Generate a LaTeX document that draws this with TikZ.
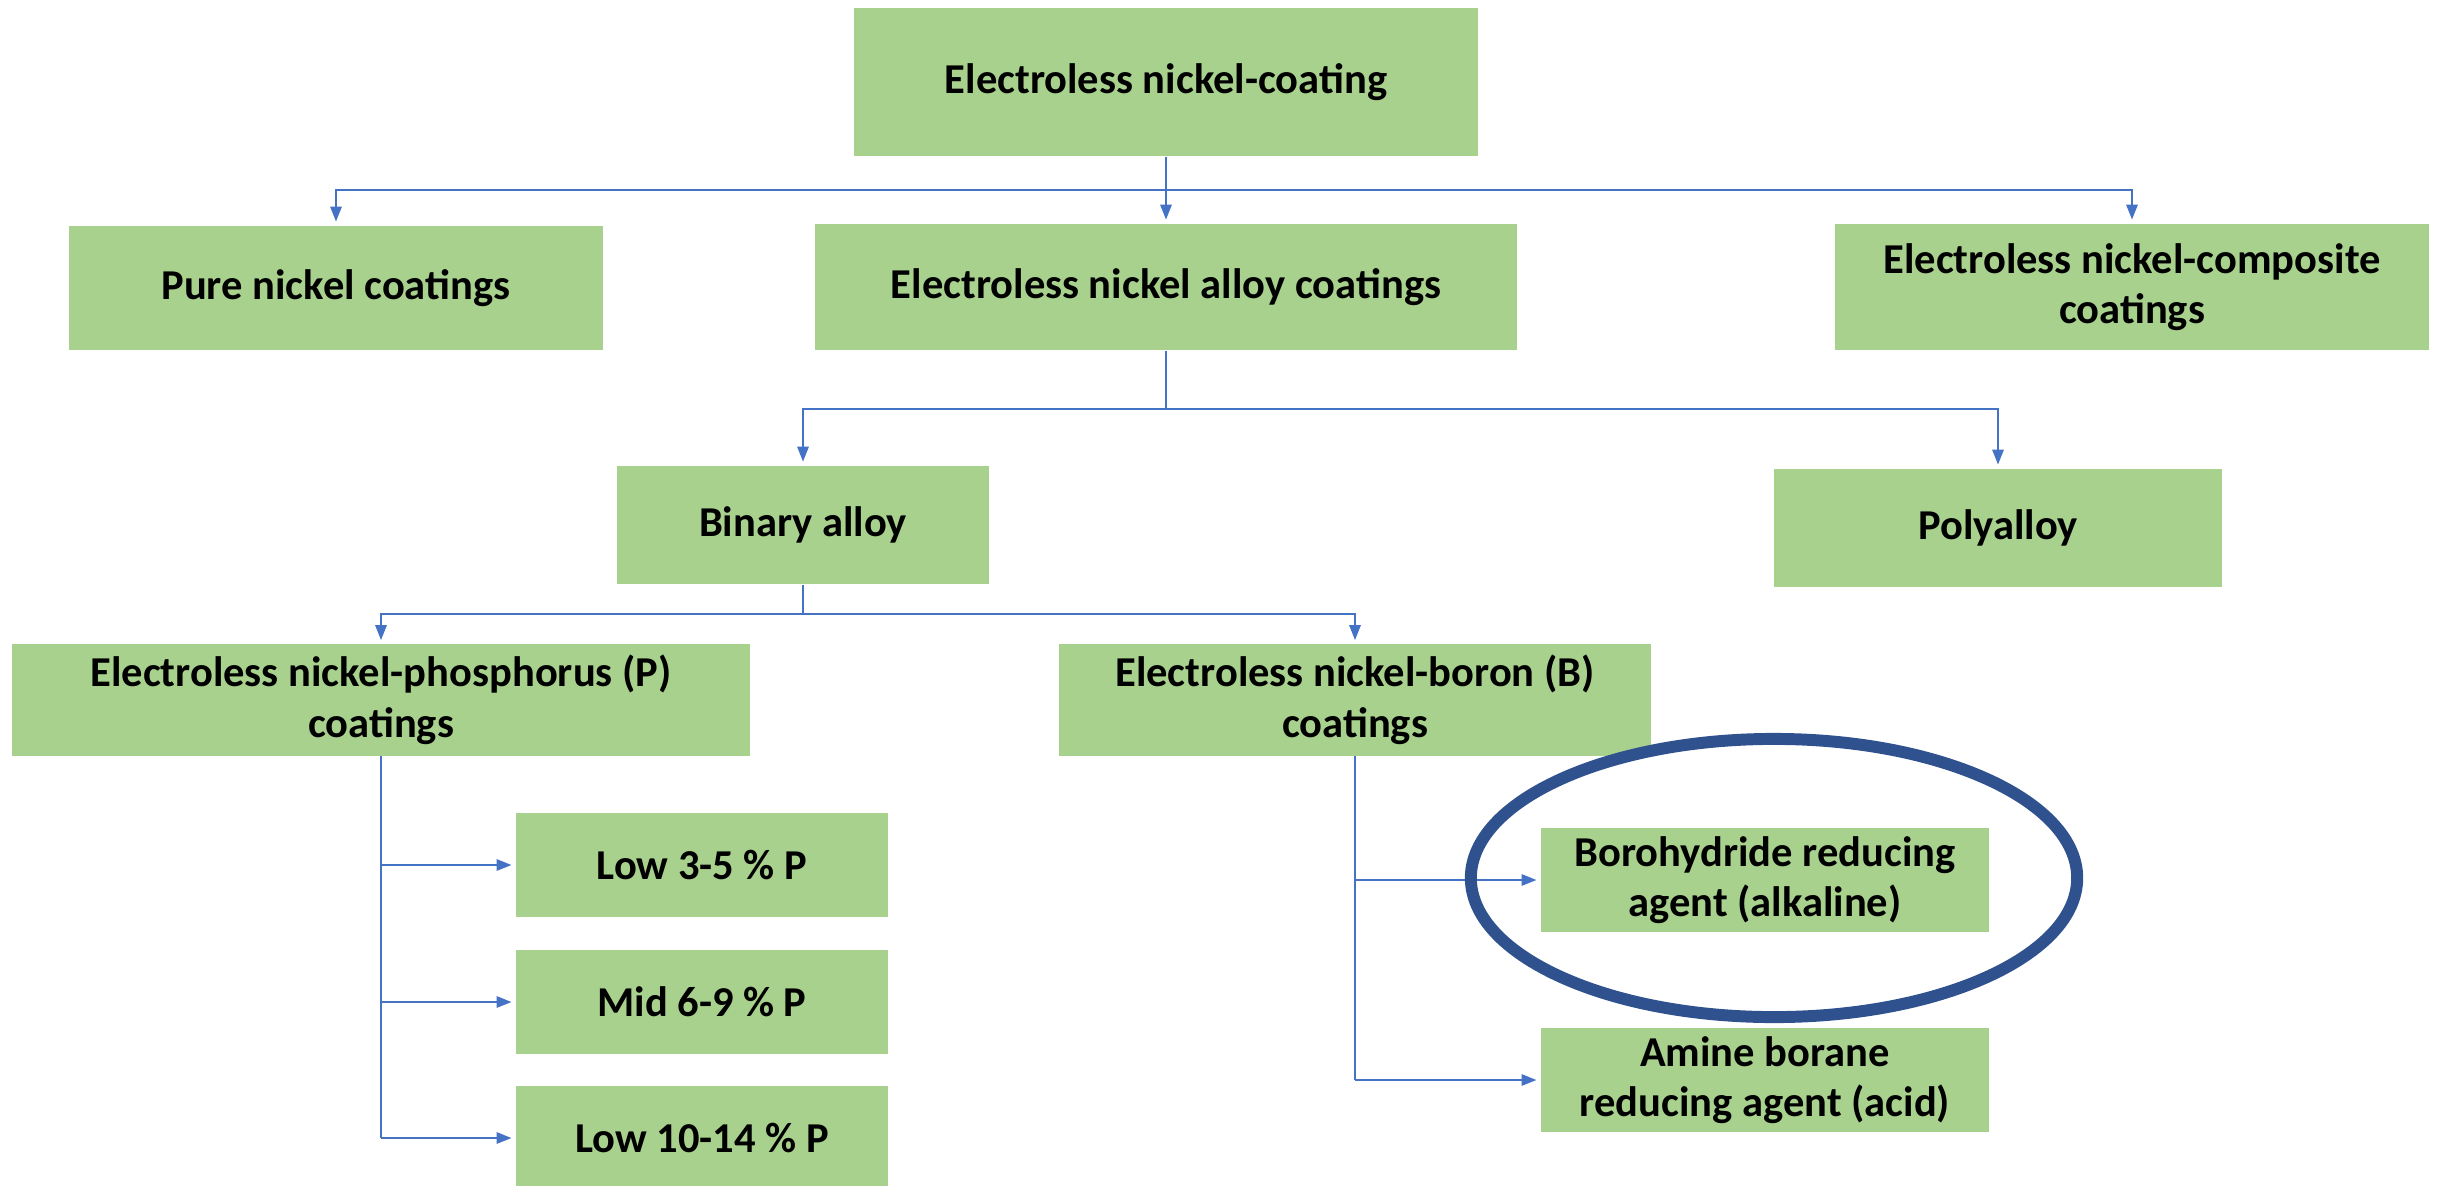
\documentclass[tikz,border=0pt]{standalone}
\usepackage{fontspec}
\setmainfont{Carlito}
\usepackage{xcolor}
\usetikzlibrary{arrows.meta, positioning}

\definecolor{boxgreen}{HTML}{A9D18E}
\definecolor{linkblue}{HTML}{4472C4}
\definecolor{ringblue}{HTML}{2F528F}

\begin{document}
\begin{tikzpicture}[x=0.01cm, y=-0.01cm,
    box/.style={fill=boxgreen, align=center, inner sep=0pt,
      font=\fontsize{12.1}{14.4}\selectfont\bfseries},
    link/.style={draw=linkblue, line width=0.75pt},
    arr/.style={link, shorten >=1pt, -{Triangle[length=0.15cm, width=0.11cm]}},
    ring/.style={draw=ringblue, line width=3.4pt}]
                        \useasboundingbox (0,0) rectangle (2440,1185);

                        \node[box, minimum width=6.24cm, minimum height=1.48cm] (top) at (1166, 82) {Electroless nickel-coating};
                        \node[box, minimum width=5.33cm, minimum height=1.24cm] (pure) at (336, 288) {Pure nickel coatings};
                        \node[box, minimum width=7.01cm, minimum height=1.26cm] (alloy) at (1166, 287) {Electroless nickel alloy coatings};
                        \node[box, minimum width=5.94cm, minimum height=1.26cm] (comp) at (2132, 287) {Electroless nickel-composite\\coatings};
                        \node[box, minimum width=3.72cm, minimum height=1.18cm] (bin) at (803, 525) {Binary alloy};
                        \node[box, minimum width=4.47cm, minimum height=1.18cm] (poly) at (1998, 528) {Polyalloy};
                        \node[box, minimum width=7.38cm, minimum height=1.11cm] (enp) at (381, 700) {Electroless nickel-phosphorus (P)\\coatings};
                        \node[box, minimum width=5.91cm, minimum height=1.11cm] (enb) at (1355, 700) {Electroless nickel-boron (B)\\coatings};
                        \node[box, minimum width=3.72cm, minimum height=1.03cm] (p1) at (702, 865) {Low 3-5 \% P};
                        \node[box, minimum width=3.72cm, minimum height=1.03cm] (p2) at (702, 1002) {Mid 6-9 \% P};
                        \node[box, minimum width=3.72cm, minimum height=1.03cm] (p3) at (702, 1138) {Low 10-14 \% P};
                        \node[box, minimum width=4.48cm, minimum height=1.03cm] (b1) at (1765, 880) {Borohydride reducing\\agent (alkaline)};
                        \node[box, minimum width=4.48cm, minimum height=1.03cm] (b2) at (1765, 1080) {Amine borane\\reducing agent (acid)};

                        \coordinate (j1) at (1166, 190);
                        \coordinate (j2) at (1166, 409);
                        \coordinate (j3) at (803, 614);

                        \draw[link] (top) -- (j1);
                        \draw[arr] (j1) -| (pure);
                        \draw[arr] (j1) -- (alloy);
                        \draw[arr] (j1) -| (comp);

                        \draw[link] (alloy) -- (j2);
                        \draw[arr] (j2) -| (bin);
                        \draw[arr] (j2) -| (poly);

                        \draw[link] (bin) -- (j3);
                        \draw[arr] (j3) -| (enp);
                        \draw[arr] (j3) -| (enb);

                        \draw[link] (enp.south) -- (enp.south |- p3);
                        \foreach \n in {p1, p2, p3}
                            \draw[arr] (enp.south |- \n) -- (\n);

                        \draw[link] (enb.south) -- (enb.south |- b2);
                        \foreach \n in {b1, b2}
                            \draw[arr] (enb.south |- \n) -- (\n);

                        \draw[ring] (1774, 878) ellipse [x radius=3.03cm, y radius=1.39cm];
                    \end{tikzpicture}
\end{document}
